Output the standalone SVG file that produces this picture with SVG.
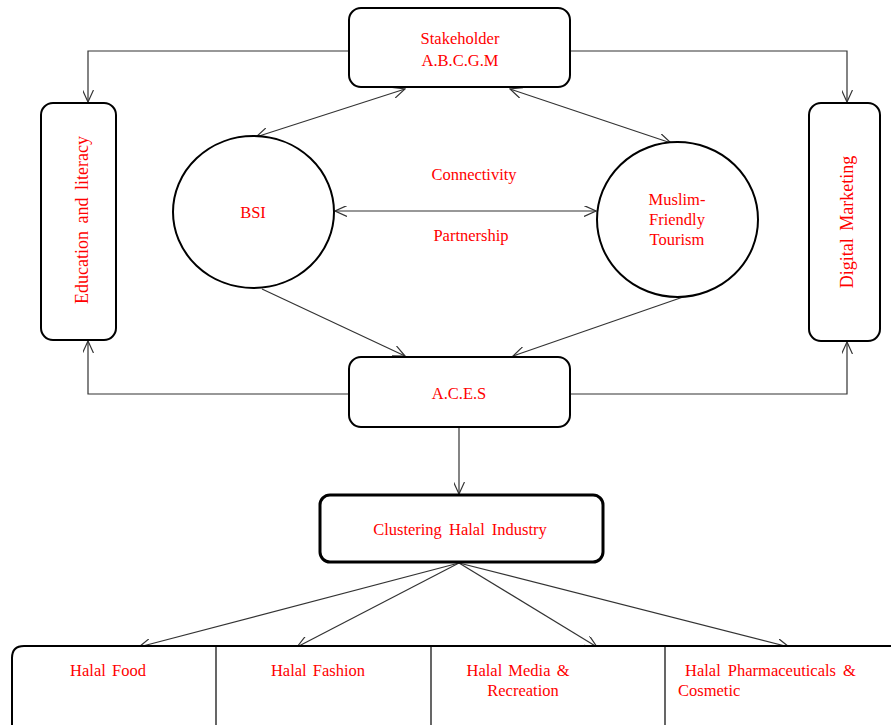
<svg xmlns="http://www.w3.org/2000/svg" width="891" height="725" viewBox="0 0 891 725">
<style>
.box{fill:#fff;stroke:#000;stroke-width:2}
.ell{fill:#fff;stroke:#000;stroke-width:2}
.t{font-family:"Liberation Serif","Times New Roman",serif;font-size:16.5px;fill:#ff0000}
.r{font-size:18px}
.c{fill:none;stroke:#333;stroke-width:1.2}
</style>
<defs>
<marker id="ah" markerWidth="13" markerHeight="11" refX="12" refY="5.5" orient="auto-start-reverse" markerUnits="userSpaceOnUse">
<path d="M0,0 L12,5.5 L0,11" fill="none" stroke="#333" stroke-width="1.2"/>
</marker>
</defs>
<rect width="891" height="725" fill="#fff"/>
<g id="connectors">
<path class="c" d="M349,51 H88 V102" marker-end="url(#ah)"/>
<path class="c" d="M570,51 H847 V102" marker-end="url(#ah)"/>
<path class="c" d="M349,394 H88 V341" marker-end="url(#ah)"/>
<path class="c" d="M570,394 H847 V342" marker-end="url(#ah)"/>
<line class="c" x1="405" y1="89" x2="256" y2="137" marker-start="url(#ah)" marker-end="url(#ah)"/>
<line class="c" x1="510" y1="89" x2="671" y2="143" marker-start="url(#ah)" marker-end="url(#ah)"/>
<line class="c" x1="335" y1="211" x2="596" y2="211" marker-start="url(#ah)" marker-end="url(#ah)"/>
<line class="c" x1="262" y1="289" x2="405" y2="356" marker-end="url(#ah)"/>
<line class="c" x1="686" y1="296" x2="513" y2="356" marker-end="url(#ah)"/>
<line class="c" x1="459" y1="428" x2="459" y2="494" marker-end="url(#ah)"/>
<line class="c" x1="459" y1="563" x2="139" y2="647" marker-end="url(#ah)"/>
<line class="c" x1="459" y1="563" x2="297" y2="647" marker-end="url(#ah)"/>
<line class="c" x1="459" y1="563" x2="597" y2="647" marker-end="url(#ah)"/>
<line class="c" x1="459" y1="563" x2="789" y2="647" marker-end="url(#ah)"/>
<text class="t" x="474" y="180" text-anchor="middle">Connectivity</text>
<text class="t" x="471" y="241" text-anchor="middle">Partnership</text>
</g>
<g id="stakeholder">
<rect class="box" x="349" y="8" width="221" height="79" rx="12"/>
<text class="t" x="460" y="44" text-anchor="middle">Stakeholder</text>
<text class="t" x="460" y="66" text-anchor="middle">A.B.C.G.M</text>
</g>
<g id="education">
<rect class="box" x="41" y="103" width="75" height="237" rx="12"/>
<text class="t r" transform="translate(88,220) rotate(-90)" text-anchor="middle" style="word-spacing:3px">Education and literacy</text>
</g>
<g id="digital">
<rect class="box" x="809" y="103" width="71" height="238" rx="12"/>
<text class="t r" transform="translate(853,222) rotate(-90)" text-anchor="middle" style="word-spacing:3px">Digital Marketing</text>
</g>
<g id="bsi">
<ellipse class="ell" cx="253.5" cy="212" rx="80.5" ry="76"/>
<text class="t" x="253" y="218" text-anchor="middle">BSI</text>
</g>
<g id="mft">
<ellipse class="ell" cx="677.5" cy="219.5" rx="80.5" ry="77.5"/>
<text class="t" x="677" y="205" text-anchor="middle">Muslim-</text>
<text class="t" x="677" y="225" text-anchor="middle">Friendly</text>
<text class="t" x="677" y="245" text-anchor="middle">Tourism</text>
</g>
<g id="aces">
<rect class="box" x="349" y="357" width="221" height="70" rx="12"/>
<text class="t" x="459" y="399" text-anchor="middle">A.C.E.S</text>
</g>
<g id="clustering">
<rect class="box" x="320" y="495" width="283" height="67" rx="10" style="stroke-width:3"/>
<text class="t" x="460" y="535" text-anchor="middle" style="word-spacing:3px">Clustering Halal Industry</text>
</g>
<g id="industries">
<path class="box" d="M12,735 V658 Q12,646 24,646 H895"/>
<line x1="216" y1="646" x2="216" y2="725" stroke="#000" stroke-width="1.2"/>
<line x1="431" y1="646" x2="431" y2="725" stroke="#000" stroke-width="1.2"/>
<line x1="665" y1="646" x2="665" y2="725" stroke="#000" stroke-width="1.2"/>
<text class="t" x="108" y="676" text-anchor="middle" style="word-spacing:2px">Halal Food</text>
<text class="t" x="318" y="676" text-anchor="middle" style="word-spacing:2px">Halal Fashion</text>
<text class="t" x="518" y="676" text-anchor="middle" style="word-spacing:2px">Halal Media &amp;</text>
<text class="t" x="523" y="696" text-anchor="middle">Recreation</text>
<text class="t" x="685" y="676" style="word-spacing:3px">Halal Pharmaceuticals &amp;</text>
<text class="t" x="678" y="696">Cosmetic</text>
</g>
</svg>
